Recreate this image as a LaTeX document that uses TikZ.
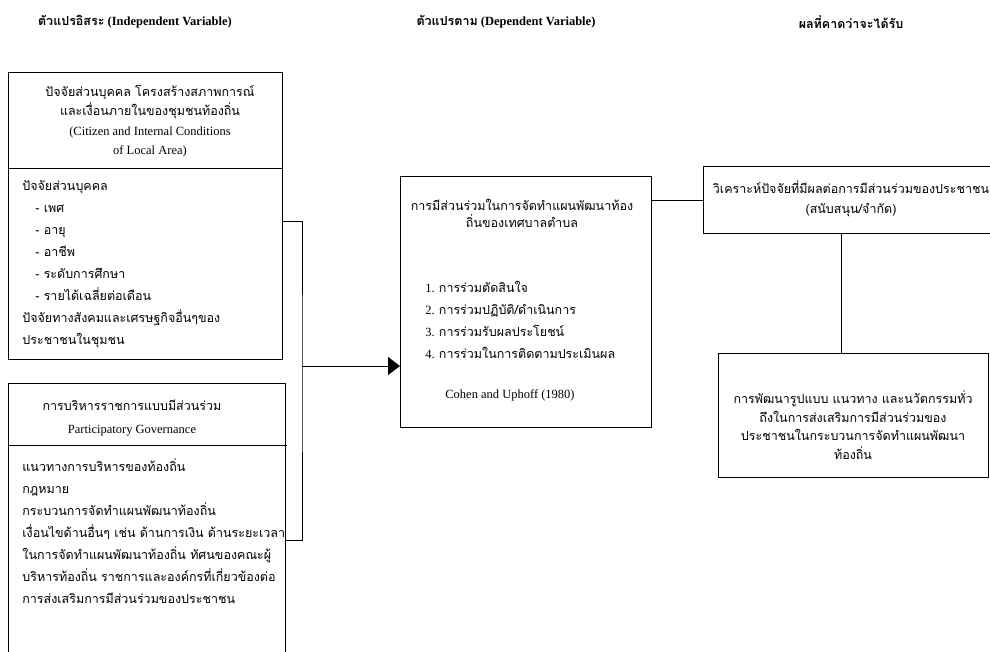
\documentclass[tikz,border=0pt]{standalone}
\usepackage{fontspec}
\setmainfont{Liberation Serif}
\newfontfamily\thaifont[Script=Thai]{Loma}
\usetikzlibrary{arrows.meta}
\begin{document}
\begin{tikzpicture}[x=1pt,y=-1pt,line width=0.8pt,
  box/.style={draw,rectangle,anchor=north west,inner sep=0pt},
  hd/.style={font=\fontsize{12.5}{19}\selectfont,align=center,inner sep=0pt},
  lst/.style={font=\fontsize{12.5}{22}\selectfont,align=left,anchor=west,inner sep=0pt},
  ttl/.style={font=\fontsize{12.5}{15}\selectfont\bfseries,inner sep=0pt}]
\clip (0,0) rectangle (990,651);
\node[ttl] (indep) at (135,22) {{\thaifont ตัวแปรอิสระ} (Independent Variable)};
\node[ttl] (dep) at (506,22) {{\thaifont ตัวแปรตาม} (Dependent Variable)};
\node[ttl] (expect) at (851,22) {\thaifont ผลที่คาดว่าจะได้รับ};
\node[box,minimum width=274pt,minimum height=287pt] (citizen) at (8,72) {};
\draw (8,168) -- (282,168);
\node[hd,font=\fontsize{12.5}{19.5}\selectfont] (citizenhd) at (150,121) {{\thaifont ปัจจัยส่วนบุคคล โครงสร้างสภาพการณ์}\\{\thaifont และเงื่อนภายในของชุมชนท้องถิ่น}\\(Citizen and Internal Conditions\\of Local Area)};
\node[lst,font=\fontsize{12.5}{22}\selectfont\thaifont] (citizenls) at (22,264) {ปัจจัยส่วนบุคคล\\\hspace{13pt}- เพศ\\\hspace{13pt}- อายุ\\\hspace{13pt}- อาชีพ\\\hspace{13pt}- ระดับการศึกษา\\\hspace{13pt}- รายได้เฉลี่ยต่อเดือน\\ปัจจัยทางสังคมและเศรษฐกิจอื่นๆของ\\ประชาชนในชุมชน};
\node[box,minimum width=277pt,minimum height=314pt] (govern) at (8,383) {};
\draw (8,445) -- (287,445);
\node[hd,font=\fontsize{12.5}{23}\selectfont] (governhd) at (132,418) {{\thaifont การบริหารราชการแบบมีส่วนร่วม}\\Participatory Governance};
\node[lst,font=\fontsize{12.5}{22}\selectfont\thaifont] (governls) at (22,531) {แนวทางการบริหารของท้องถิ่น\\กฎหมาย\\กระบวนการจัดทำแผนพัฒนาท้องถิ่น\\เงื่อนไขด้านอื่นๆ เช่น ด้านการเงิน ด้านระยะเวลา\\ในการจัดทำแผนพัฒนาท้องถิ่น ทัศนของคณะผู้\\บริหารท้องถิ่น ราชการและองค์กรที่เกี่ยวข้องต่อ\\การส่งเสริมการมีส่วนร่วมของประชาชน};
\node[box,minimum width=251pt,minimum height=251pt] (partic) at (400,176) {};
\node[hd,font=\fontsize{12.5}{17}\selectfont\thaifont] (partichd) at (522,213) {การมีส่วนร่วมในการจัดทำแผนพัฒนาท้อง\\ถิ่นของเทศบาลตำบล};
\node[lst] (particls) at (425,320) {1. {\thaifont การร่วมตัดสินใจ}\\2. {\thaifont การร่วมปฏิบัติ/ดำเนินการ}\\3. {\thaifont การร่วมรับผลประโยชน์}\\4. {\thaifont การร่วมในการติดตามประเมินผล}};
\node[hd] (cohen) at (510,395) {Cohen and Uphoff (1980)};
\node[box,minimum width=300pt,minimum height=67pt] (analysis) at (703,166) {};
\node[hd,font=\fontsize{12.5}{20}\selectfont\thaifont] (analysishd) at (851,199) {วิเคราะห์ปัจจัยที่มีผลต่อการมีส่วนร่วมของประชาชน\\(สนับสนุน/จำกัด)};
\node[box,minimum width=270pt,minimum height=124pt] (develop) at (718,353) {};
\node[hd,font=\fontsize{12.5}{18.7}\selectfont\thaifont] (develophd) at (853,425) {การพัฒนารูปแบบ แนวทาง และนวัตกรรมทั่ว\\ถึงในการส่งเสริมการมีส่วนร่วมของ\\ประชาชนในกระบวนการจัดทำแผนพัฒนา\\ท้องถิ่น};
\coordinate (join) at (302,366);
\coordinate (drop) at (841,0);
\draw ([yshift=-5.5pt]citizen.east) -| (join) |- (govern.east);
\draw[-{Triangle[length=12pt,width=18pt]}] (join) -- (join -| partic.west);
\draw (partic.east |- analysis.west) -- (analysis.west);
\draw (analysis.south -| drop) -- (develop.north -| drop);
\end{tikzpicture}
\end{document}
